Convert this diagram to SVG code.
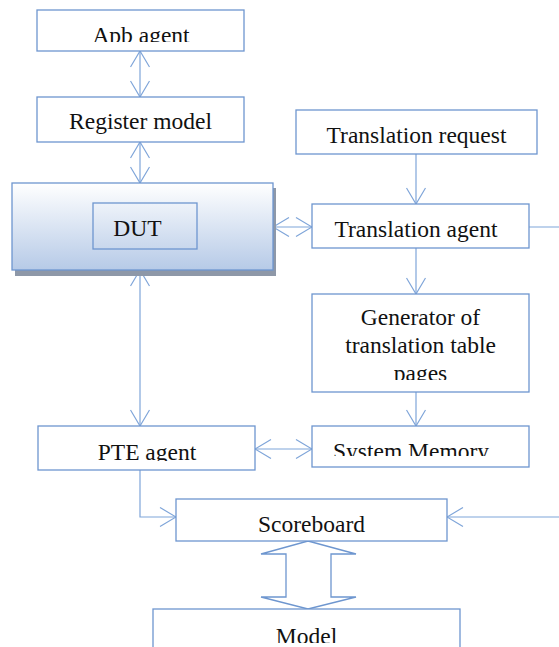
<svg xmlns="http://www.w3.org/2000/svg" width="559" height="647" viewBox="0 0 559 647">
<style>
.box{fill:#fff;stroke:#6E96CF;stroke-width:1.3}
.t{font-family:"Liberation Serif","Times New Roman",serif;font-size:23.5px;fill:#111;text-anchor:middle}
.c{fill:none;stroke:#7FA5D9;stroke-width:1.2}
.blk{fill:#fff;stroke:#6E96CF;stroke-width:1.3}
</style>
<defs>
<marker id="ah" viewBox="0 0 18 20" refX="17" refY="10" markerWidth="18" markerHeight="20" markerUnits="userSpaceOnUse" orient="auto-start-reverse">
<path d="M1,0.5 L17,10 L1,19.5" fill="none" stroke="#7FA5D9" stroke-width="1.2"/>
</marker>
<linearGradient id="g" x1="0" y1="0" x2="0" y2="1">
<stop offset="0" stop-color="#FFFFFF"/>
<stop offset="1" stop-color="#B6CAE7"/>
</linearGradient>
<clipPath id="cApb"><rect x="37" y="10" width="207" height="32"/></clipPath>
<clipPath id="cPte"><rect x="38" y="426" width="217" height="35"/></clipPath>
<clipPath id="cSys"><rect x="312" y="426" width="217" height="30"/></clipPath>
<clipPath id="cGen"><rect x="312" y="294" width="217" height="86"/></clipPath>
<clipPath id="cMod"><rect x="153" y="609" width="307" height="34"/></clipPath>
</defs>

<g id="connectors">
<line class="c" x1="140" y1="51" x2="140" y2="97" marker-start="url(#ah)" marker-end="url(#ah)"/>
<line class="c" x1="140" y1="142" x2="140" y2="183" marker-start="url(#ah)" marker-end="url(#ah)"/>
<line class="c" x1="140" y1="270" x2="140" y2="426" marker-start="url(#ah)" marker-end="url(#ah)"/>
<line class="c" x1="273" y1="227" x2="312" y2="227" marker-start="url(#ah)" marker-end="url(#ah)"/>
<line class="c" x1="416" y1="154" x2="416" y2="204" marker-end="url(#ah)"/>
<line class="c" x1="416" y1="248" x2="416" y2="294" marker-end="url(#ah)"/>
<line class="c" x1="416" y1="392" x2="416" y2="426" marker-end="url(#ah)"/>
<line class="c" x1="255" y1="449" x2="312" y2="449" marker-start="url(#ah)" marker-end="url(#ah)"/>
<path class="c" d="M140,470 V517 H176" marker-end="url(#ah)"/>
<path class="c" d="M529,227 H580 V517 H447" marker-end="url(#ah)"/>
<path class="blk" d="M308,541 L356,554 H331 V597 H356 L308,609 L261,597 H286 V554 H261 Z"/>
</g>

<g id="apb">
<rect class="box" x="37" y="10" width="207" height="41"/>
<text class="t" x="141" y="42.5" clip-path="url(#cApb)">Apb agent</text>
</g>
<g id="register">
<rect class="box" x="37" y="97" width="207" height="45"/>
<text class="t" x="140.5" y="129">Register model</text>
</g>
<g id="dut">
<rect x="15" y="188" width="261" height="88" fill="#8E98A8"/>
<rect x="12" y="183" width="261" height="87" fill="url(#g)" stroke="#6E96CF" stroke-width="1.3"/>
<rect x="93" y="203" width="104" height="46" fill="none" stroke="#6E96CF" stroke-width="1.3"/>
<text class="t" x="137.5" y="236">DUT</text>
</g>
<g id="treq">
<rect class="box" x="296" y="110" width="241" height="44"/>
<text class="t" x="416.5" y="143">Translation request</text>
</g>
<g id="tagent">
<rect class="box" x="312" y="204" width="217" height="44"/>
<text class="t" x="416" y="237">Translation agent</text>
</g>
<g id="generator">
<rect class="box" x="312" y="294" width="217" height="98"/>
<g clip-path="url(#cGen)">
<text class="t" x="420.5" y="325">Generator of</text>
<text class="t" x="420.5" y="353">translation table</text>
<text class="t" x="420.5" y="380.5">pages</text>
</g>
</g>
<g id="sysmem">
<rect class="box" x="312" y="426" width="217" height="41"/>
<text class="t" x="411" y="459" clip-path="url(#cSys)">System Memory</text>
</g>
<g id="pte">
<rect class="box" x="38" y="426" width="217" height="44"/>
<text class="t" x="147" y="459.5" clip-path="url(#cPte)">PTE agent</text>
</g>
<g id="scoreboard">
<rect class="box" x="176" y="499" width="271" height="42"/>
<text class="t" x="311.5" y="532">Scoreboard</text>
</g>
<g id="model">
<rect class="box" x="153" y="609" width="307" height="50"/>
<text class="t" x="306.5" y="643.5" clip-path="url(#cMod)">Model</text>
</g>
</svg>
